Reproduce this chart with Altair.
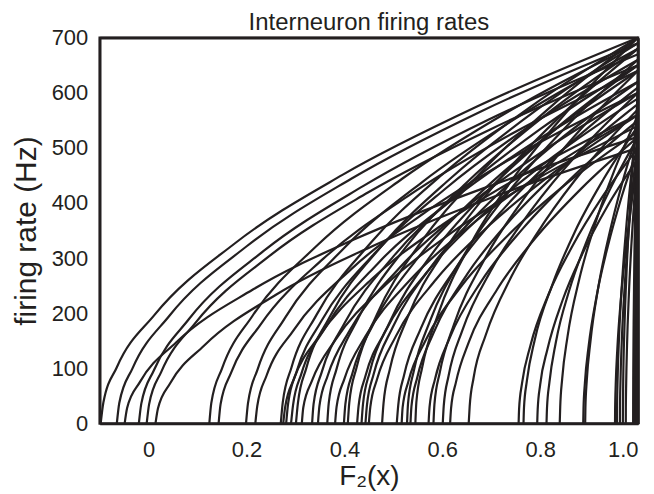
import altair as alt
import pandas as pd

# x positions (F2(x)) of the points
curve_x = [
    [-0.098, -0.0925, -0.065, 0.012, 0.1765, 0.396, 0.671, 1.0],
    [-0.065, -0.060, -0.033, 0.042, 0.201, 0.414, 0.681, 1.0],
    [-0.049, -0.044, -0.018, 0.056, 0.213, 0.423, 0.685, 1.0],
    [-0.020, -0.015, 0.011, 0.082, 0.235, 0.439, 0.694, 1.0],
    [-0.004, 0.001, 0.026, 0.096, 0.247, 0.448, 0.699, 1.0],
    [0.014, 0.019, 0.044, 0.113, 0.261, 0.458, 0.704, 1.0],
    [0.124, 0.128, 0.150, 0.212, 0.343, 0.518, 0.737, 1.0],
    [0.143, 0.147, 0.169, 0.229, 0.357, 0.529, 0.743, 1.0],
    [0.199, 0.203, 0.223, 0.279, 0.399, 0.559, 0.760, 1.0],
    [0.218, 0.222, 0.241, 0.296, 0.414, 0.570, 0.765, 1.0],
    [0.270, 0.274, 0.292, 0.343, 0.453, 0.599, 0.781, 1.0],
    [0.275, 0.279, 0.297, 0.348, 0.456, 0.601, 0.783, 1.0],
    [0.281, 0.285, 0.303, 0.353, 0.461, 0.605, 0.784, 1.0],
    [0.291, 0.295, 0.312, 0.362, 0.468, 0.610, 0.787, 1.0],
    [0.301, 0.305, 0.322, 0.371, 0.476, 0.616, 0.790, 1.0],
    [0.313, 0.316, 0.334, 0.382, 0.485, 0.622, 0.794, 1.0],
    [0.334, 0.337, 0.354, 0.401, 0.501, 0.634, 0.800, 1.0],
    [0.346, 0.349, 0.366, 0.411, 0.510, 0.640, 0.804, 1.0],
    [0.365, 0.368, 0.384, 0.429, 0.524, 0.651, 0.810, 1.0],
    [0.381, 0.384, 0.400, 0.443, 0.536, 0.660, 0.814, 1.0],
    [0.399, 0.402, 0.417, 0.459, 0.549, 0.670, 0.820, 1.0],
    [0.407, 0.410, 0.425, 0.466, 0.555, 0.674, 0.822, 1.0],
    [0.426, 0.429, 0.443, 0.483, 0.570, 0.684, 0.828, 1.0],
    [0.435, 0.438, 0.452, 0.492, 0.576, 0.689, 0.831, 1.0],
    [0.443, 0.446, 0.460, 0.499, 0.582, 0.694, 0.833, 1.0],
    [0.450, 0.453, 0.467, 0.505, 0.588, 0.698, 0.835, 1.0],
    [0.477, 0.480, 0.493, 0.529, 0.608, 0.712, 0.843, 1.0],
    [0.507, 0.510, 0.522, 0.556, 0.630, 0.729, 0.852, 1.0],
    [0.517, 0.519, 0.531, 0.565, 0.638, 0.734, 0.855, 1.0],
    [0.528, 0.530, 0.542, 0.575, 0.646, 0.740, 0.858, 1.0],
    [0.535, 0.537, 0.549, 0.582, 0.651, 0.744, 0.861, 1.0],
    [0.545, 0.547, 0.559, 0.591, 0.659, 0.750, 0.864, 1.0],
    [0.572, 0.574, 0.585, 0.615, 0.679, 0.765, 0.872, 1.0],
    [0.582, 0.584, 0.595, 0.624, 0.687, 0.770, 0.875, 1.0],
    [0.601, 0.603, 0.613, 0.641, 0.701, 0.781, 0.880, 1.0],
    [0.616, 0.618, 0.628, 0.654, 0.712, 0.789, 0.885, 1.0],
    [0.654, 0.656, 0.664, 0.689, 0.741, 0.810, 0.896, 1.0],
    [0.756, 0.757, 0.763, 0.780, 0.817, 0.866, 0.927, 1.0],
    [0.766, 0.767, 0.773, 0.789, 0.825, 0.871, 0.930, 1.0],
    [0.794, 0.795, 0.800, 0.815, 0.846, 0.887, 0.938, 1.0],
    [0.813, 0.814, 0.819, 0.832, 0.860, 0.897, 0.944, 1.0],
    [0.840, 0.841, 0.845, 0.856, 0.880, 0.912, 0.952, 1.0],
    [0.888, 0.8886, 0.8914, 0.8992, 0.916, 0.9384, 0.9664, 1.0],
    [0.892, 0.8925, 0.8952, 0.9028, 0.919, 0.9406, 0.9676, 1.0],
    [0.953, 0.9532, 0.9544, 0.9577, 0.9648, 0.9742, 0.9859, 1.0],
    [0.957, 0.9572, 0.9583, 0.9613, 0.9678, 0.9764, 0.9871, 1.0],
    [0.963, 0.9632, 0.9641, 0.9667, 0.9723, 0.9797, 0.9889, 1.0],
    [0.969, 0.9692, 0.9699, 0.9721, 0.9768, 0.9830, 0.9907, 1.0],
    [0.975, 0.9751, 0.9758, 0.9775, 0.9813, 0.9863, 0.9925, 1.0],
    [0.990, 0.99005, 0.9903, 0.9910, 0.9925, 0.9945, 0.9970, 1.0],
    [0.993, 0.99304, 0.99321, 0.9937, 0.99475, 0.99615, 0.9979, 1.0],
    [0.996, 0.99602, 0.99612, 0.9964, 0.9970, 0.9978, 0.9988, 1.0],
    [0.998, 0.99801, 0.99806, 0.9982, 0.9985, 0.9989, 0.9994, 1.0],
]

# firing rates (Hz) read at those points
curve_rate = [
    [0, 38, 102, 197, 327, 451, 575, 700],
    [0, 37, 100, 195, 322, 444, 567, 690],
    [0, 28, 75, 147, 243, 335, 427, 520],
    [0, 36, 97, 189, 313, 431, 551, 670],
    [0, 35, 94, 183, 304, 419, 534, 650],
    [0, 27, 73, 141, 234, 322, 411, 500],
    [0, 37, 100, 195, 322, 444, 567, 690],
    [0, 35, 93, 180, 299, 412, 526, 640],
    [0, 37, 99, 192, 318, 438, 559, 680],
    [0, 32, 87, 169, 280, 386, 493, 600],
    [0, 38, 102, 197, 327, 451, 575, 700],
    [0, 30, 81, 158, 262, 361, 460, 560],
    [0, 36, 96, 186, 308, 425, 543, 660],
    [0, 33, 90, 175, 290, 399, 510, 620],
    [0, 37, 100, 195, 322, 444, 567, 690],
    [0, 29, 78, 152, 252, 348, 444, 540],
    [0, 35, 94, 183, 304, 419, 534, 650],
    [0, 32, 87, 169, 280, 386, 493, 600],
    [0, 37, 99, 192, 318, 438, 559, 680],
    [0, 30, 81, 158, 262, 361, 460, 560],
    [0, 35, 93, 180, 299, 412, 526, 640],
    [0, 38, 102, 197, 327, 451, 575, 700],
    [0, 32, 86, 166, 276, 380, 485, 590],
    [0, 35, 94, 183, 304, 419, 534, 650],
    [0, 33, 90, 175, 290, 399, 510, 620],
    [0, 30, 81, 158, 262, 361, 460, 560],
    [0, 37, 99, 192, 318, 438, 559, 680],
    [0, 33, 88, 172, 285, 393, 501, 610],
    [0, 29, 77, 149, 248, 341, 436, 530],
    [0, 36, 96, 186, 308, 425, 543, 660],
    [0, 31, 84, 164, 271, 374, 477, 580],
    [0, 38, 102, 197, 327, 451, 575, 700],
    [0, 30, 80, 155, 257, 354, 452, 550],
    [0, 35, 93, 180, 299, 412, 526, 640],
    [0, 32, 87, 169, 280, 386, 493, 600],
    [0, 28, 75, 147, 243, 335, 427, 520],
    [0, 31, 83, 161, 266, 367, 469, 570],
    [0, 27, 73, 141, 234, 322, 411, 500],
    [0, 29, 78, 152, 252, 348, 444, 540],
    [0, 26, 70, 135, 224, 309, 395, 480],
    [0, 28, 75, 147, 243, 335, 427, 520],
    [0, 30, 81, 158, 262, 361, 460, 560],
    [0, 27, 73, 141, 234, 322, 411, 500],
    [0, 29, 77, 149, 248, 341, 436, 530],
    [0, 26, 70, 135, 224, 309, 395, 480],
    [0, 30, 81, 158, 262, 361, 460, 560],
    [0, 28, 75, 147, 243, 335, 427, 520],
    [0, 32, 87, 169, 280, 386, 493, 600],
    [0, 27, 73, 141, 234, 322, 411, 500],
    [0, 35, 93, 180, 299, 412, 526, 640],
    [0, 30, 81, 158, 262, 361, 460, 560],
    [0, 37, 100, 195, 322, 444, 567, 690],
    [0, 33, 90, 175, 290, 399, 510, 620],
]

x_ticks = [0, 0.2, 0.4, 0.6, 0.8, 1.0]
y_ticks = [0, 100, 200, 300, 400, 500, 600, 700]
x_domain = [-0.1, 1.0]
y_domain = [0, 700]

rows = []
for i, (xs, rs) in enumerate(zip(curve_x, curve_rate)):
    for j, (xv, rv) in enumerate(zip(xs, rs)):
        rows.append({"cell": i, "k": j, "x": xv, "rate": rv})
df = pd.DataFrame(rows)

FONT = "Liberation Sans"
INK = "#231f20"

xscale = alt.Scale(domain=x_domain, nice=False, zero=False)
yscale = alt.Scale(domain=y_domain, nice=False)

lines = alt.Chart(df).mark_line(
    color=INK, strokeWidth=2.2, interpolate="monotone"
).encode(
    x=alt.X("x:Q", scale=xscale, axis=alt.Axis(
        orient="bottom", values=x_ticks, title="F\u2082(x)",
        labelExpr="datum.value == 0 ? '0' : format(datum.value, '.1f')",
        domain=True, domainColor=INK, domainWidth=2.6, grid=False,
        ticks=False, labelPadding=16,
        labelFontSize=22, labelFont=FONT, labelColor=INK,
        titleFontSize=28, titleFont=FONT, titleFontWeight="normal",
        titleColor=INK, titlePadding=2)),
    y=alt.Y("rate:Q", scale=yscale, axis=alt.Axis(
        orient="left", values=y_ticks, title="firing rate (Hz)",
        domain=True, domainColor=INK, domainWidth=2.6, grid=False,
        ticks=False, labelPadding=12,
        labelFontSize=22, labelFont=FONT, labelColor=INK,
        titleFontSize=30, titleFont=FONT, titleFontWeight="normal",
        titleColor=INK, titlePadding=10)),
    detail="cell:N",
    order="k:Q",
)

frame = alt.Chart(df).mark_line(opacity=0).encode(
    x=alt.X("x:Q", scale=xscale, axis=alt.Axis(
        orient="top", values=x_ticks, labels=False, title=None, grid=False,
        domain=True, domainColor=INK, domainWidth=2.6, ticks=False)),
    y=alt.Y("rate:Q", scale=yscale, axis=alt.Axis(
        orient="right", values=y_ticks, labels=False, title=None, grid=False,
        domain=True, domainColor=INK, domainWidth=2.6, ticks=False)),
    detail="cell:N",
)

chart = alt.layer(lines, frame).resolve_axis(
    x="independent", y="independent"
).properties(
    width=540,
    height=387,
    background="white",
    title=alt.TitleParams("Interneuron firing rates", font=FONT, fontSize=24,
                          fontWeight="normal", color=INK, offset=6, dy=14),
    autosize=alt.AutoSizeParams(type="none"),
    padding={"left": 92, "top": 29, "right": 8, "bottom": 70},
).configure_view(
    stroke=INK, strokeWidth=2.5
)

chart.save("out.html", embed_options={"renderer": "svg", "actions": False})
